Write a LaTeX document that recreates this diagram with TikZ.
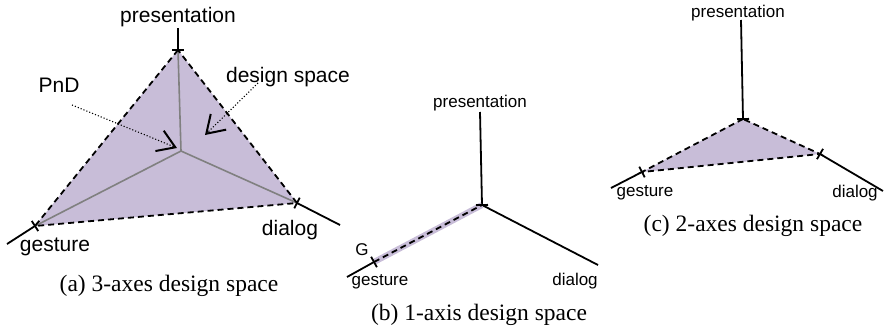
\documentclass[tikz,border=0pt]{standalone}
\usepackage{fontspec}
\setmainfont{Liberation Serif}
\setsansfont{Liberation Sans}
\usetikzlibrary{arrows.meta,calc,positioning}
\definecolor{lavender}{RGB}{200,189,216}
\newcommand{\axtick}[2]{\draw[axis] ($(#1)!6pt!90:(#2)$) -- ($(#1)!6pt!-90:(#2)$);}

\begin{document}
\begin{tikzpicture}[x=1pt,y=-1pt,
  axis/.style={black, line width=1.8pt},
  inner/.style={gray, line width=1.6pt},
  edge/.style={black, line width=1.8pt, dash pattern=on 6pt off 4pt},
  biglab/.style={font=\sffamily\fontsize{21}{24}\selectfont, inner sep=0pt},
  smalllab/.style={font=\sffamily\fontsize{17}{20}\selectfont, inner sep=0pt},
  caption/.style={font=\fontsize{23.5}{26}\selectfont, inner sep=0pt},
  pointer/.style={black, dotted, line width=1.1pt, -{Straight Barb[length=17pt,width=22pt,line width=2pt]}}]
\useasboundingbox (0,0) rectangle (885,330);

% (a) 3-axes design space
\coordinate (ac) at (181,151);
\coordinate (ap) at (178,50);
\coordinate (ag) at (35,226);
\coordinate (ad) at (297,203);
\coordinate (apend) at (178,28);
\coordinate (agend) at (7,244);
\coordinate (adend) at (340,225);

\fill[lavender] (ap) -- (ag) -- (ad) -- cycle;
\draw[inner] (ac) -- (ap) (ac) -- (ag) (ac) -- (ad);
\draw[edge] (ap) -- (ag) -- (ad) -- cycle;
\draw[axis] (ap) -- (apend) (ag) -- (agend) (ad) -- (adend);
\axtick{ap}{apend}
\axtick{ag}{agend}
\axtick{ad}{adend}

\node[biglab] (apl) at (178,17) {presentation};
\node[biglab] (agl) at (55,247) {gesture};
\node[biglab] (adl) at (290,230) {dialog};
\node[biglab] (pnd) at (59,85) {PnD};
\node[biglab] (ads) at (288,77) {design space};

\coordinate (pndtail) at (72,105);
\coordinate (pndtip) at (177,148);
\coordinate (dstail) at (258,83);
\coordinate (dstip) at (205,135);
\draw[pointer] (pndtail) -- (pndtip);
\draw[pointer] (dstail) -- (dstip);

\node[caption] (acap) at (169,286) {(a) 3-axes design space};

% (b) 1-axis design space
\coordinate (bc) at (482,205);
\coordinate (bpend) at (480,112);
\coordinate (bg) at (374,262);
\coordinate (bgend) at (347,277);
\coordinate (bdend) at (598,265);

\draw[axis] (bc) -- (bpend) (bc) -- (bdend) (bg) -- (bgend);
\draw[lavender, line width=6pt] (bc) -- (bg);
\draw[edge] (bg) -- (bc);
\axtick{bg}{bgend}
\axtick{bc}{bpend}

\node[smalllab] (bpl) at (480,103) {presentation};
\node[smalllab] (bgg) at (362,250) {G};
\node[smalllab] (bgl) at (380,282) {gesture};
\node[smalllab] (bdl) at (575,281) {dialog};

\node[caption] (bcap) at (479,315) {(b) 1-axis design space};

% (c) 2-axes design space
\coordinate (cc) at (743,119);
\coordinate (cpend) at (741,20);
\coordinate (cg) at (642,172);
\coordinate (cgend) at (611,188);
\coordinate (cd) at (820,154);
\coordinate (cdend) at (883,191);

\fill[lavender] (cc) -- (cg) -- (cd) -- cycle;
\draw[edge] (cc) -- (cg) -- (cd) -- cycle;
\draw[axis] (cc) -- (cpend) (cg) -- (cgend) (cd) -- (cdend);
\axtick{cc}{cpend}
\axtick{cg}{cgend}
\axtick{cd}{cdend}

\node[smalllab] (cpl) at (738,13) {presentation};
\node[smalllab] (cgl) at (645,193) {gesture};
\node[smalllab] (cdl) at (855,193) {dialog};

\node[caption] (ccap) at (753,226) {(c) 2-axes design space};
\end{tikzpicture}
\end{document}
